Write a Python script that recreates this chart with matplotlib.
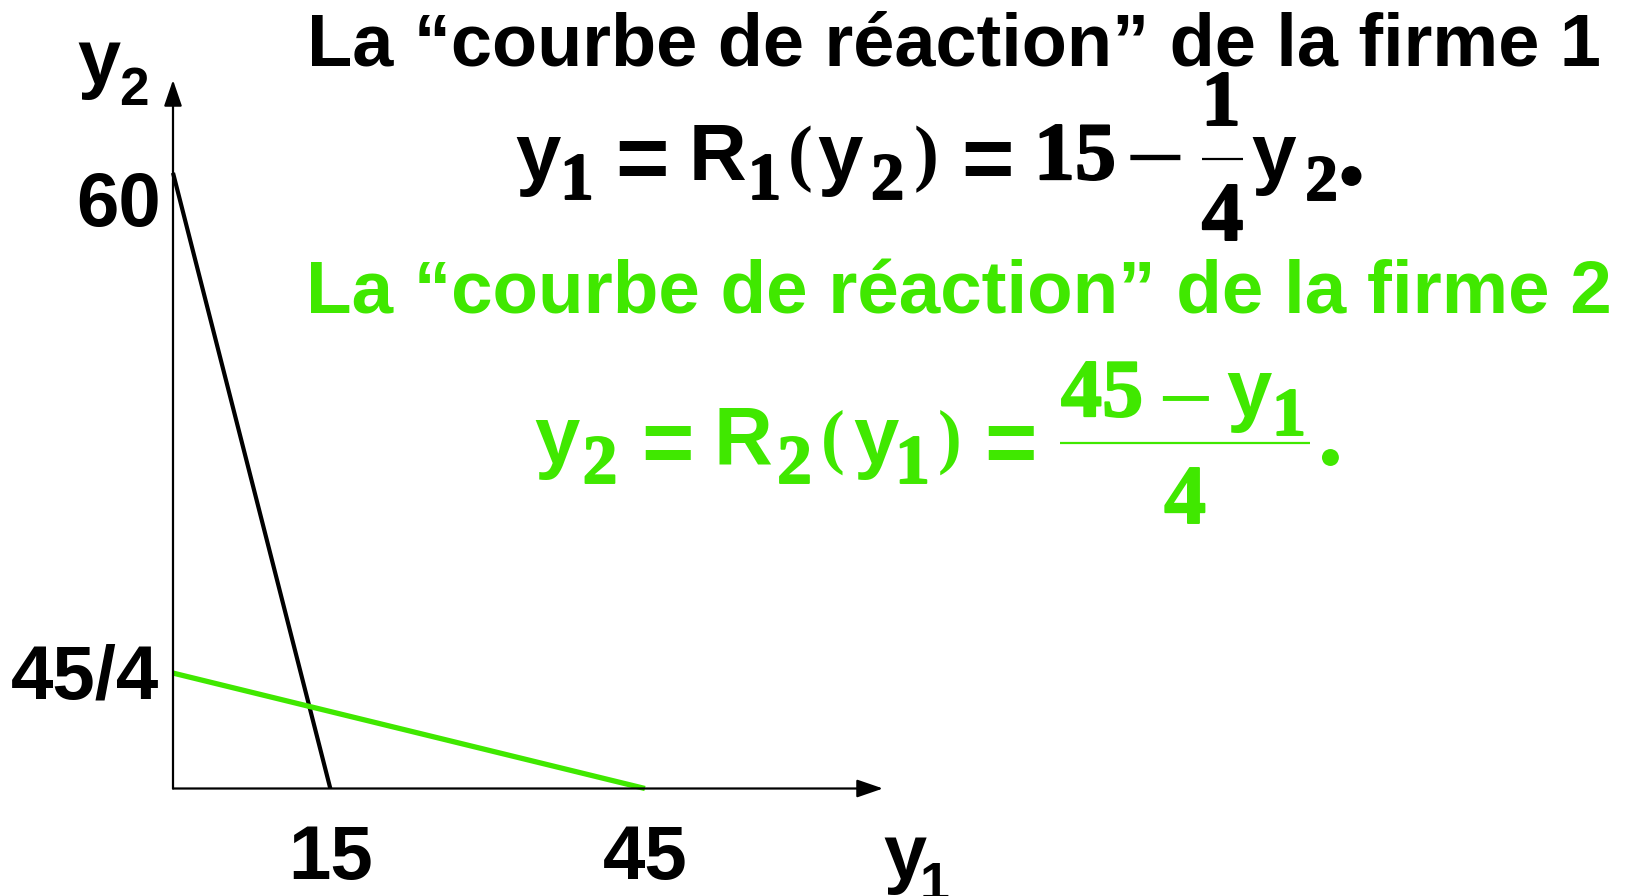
import matplotlib
matplotlib.use("Agg")
import matplotlib.pyplot as plt
import matplotlib.patheffects as pe
from matplotlib.textpath import TextPath
from matplotlib.font_manager import FontProperties
from matplotlib.transforms import IdentityTransform
from matplotlib.lines import Line2D

# ---------------- data ----------------
r1_y1 = [0, 15]        # firm 1 reaction curve: y1 = 15 - y2/4
r1_y2 = [60, 0]
r2_y1 = [0, 45]        # firm 2 reaction curve: y2 = (45 - y1)/4
r2_y2 = [45 / 4, 0]
xtick_vals = [15, 45]
xtick_labels = ["15", "45"]
ytick_vals = [60, 45 / 4]
ytick_labels = ["60", "45/4"]
title1 = "La \u201ccourbe de r\u00e9action\u201d de la firme 1"
title2 = "La \u201ccourbe de r\u00e9action\u201d de la firme 2"

# ---------------- style ----------------
W, H, DPI = 1626, 896, 100
SANS = "Liberation Sans"
SERIF = ["Liberation Serif", "DejaVu Serif"]
BLACK = "black"
GREEN = "#40E800"

fig = plt.figure(figsize=(W / DPI, H / DPI), dpi=DPI)
fig.patch.set_facecolor("white")


def ink(s, fam, weight, size_px):
    prop = FontProperties(family=fam, weight=weight)
    return TextPath((0, 0), s, size=size_px, prop=prop).get_extents()


def put(s, fam, color, cx=None, right=None, cy=None, baseline=None,
        h=None, w=None, size_px=None, weight="bold", stroke=0):
    """Place real text; coordinates are figure pixels measured from the top."""
    if size_px is None:
        e = ink(s, fam, weight, 100)
        size_px = 100 * h / e.height if h is not None else 100 * w / e.width
    e = ink(s, fam, weight, size_px)
    if cx is None:
        cx = right - e.width / 2
    if baseline is not None:
        yb = H - baseline
    else:
        yb = (H - cy) - (e.y0 + e.y1) / 2
    t = fig.text(cx, yb, s, transform=IdentityTransform(), ha="center",
                 va="baseline", fontsize=size_px * 72 / DPI, family=fam,
                 weight=weight, color=color)
    if stroke:
        t.set_path_effects([pe.withStroke(linewidth=stroke, foreground=color)])
    return size_px


def bar(x0, x1, y, color, lw=1.5):
    fig.add_artist(Line2D([x0, x1], [H - y, H - y], transform=IdentityTransform(),
                          color=color, lw=lw, solid_capstyle="butt"))


def box(s, fam, color, x0, y0, x1, y1, fit="h", weight="bold", stroke=None):
    if stroke is None:
        stroke = 1.4 if (fam is SERIF and s not in "()\u2212") else 0
    kw = dict(h=y1 - y0) if fit == "h" else dict(w=x1 - x0)
    put(s, fam, color, cx=(x0 + x1) / 2, cy=(y0 + y1) / 2, weight=weight,
        stroke=stroke, **kw)


# ---------------- chart ----------------
ax = fig.add_axes([173 / W, (H - 788.5) / H, 710 / W, 708.5 / H])
ax.set_xlim(0, 67.7)
ax.set_ylim(0, 69.05)
ax.axis("off")

arrow = dict(arrowstyle="-|>,head_length=1.6,head_width=0.55", color=BLACK,
             lw=1.6, shrinkA=0, shrinkB=0)
ax.annotate("", xy=(1, 0), xytext=(0, 0), xycoords="axes fraction", arrowprops=arrow,
            annotation_clip=False)
ax.annotate("", xy=(0, 1), xytext=(0, 0), xycoords="axes fraction", arrowprops=arrow,
            annotation_clip=False)

ax.plot(r1_y1, r1_y2, color=BLACK, lw=3.0, solid_capstyle="butt", clip_on=False)
ax.plot(r2_y1, r2_y2, color=GREEN, lw=3.8, solid_capstyle="butt", clip_on=False)

# tick labels
e60 = ink("60", SANS, "bold", 100)
tick_px = 100 * 54 / e60.height
ylabel_dy = [26.5, -1.5]
for v, lab, dy in zip(ytick_vals, ytick_labels, ylabel_dy):
    px, py = ax.transData.transform((0, v))
    put(lab, SANS, BLACK, right=px - 15, cy=(H - py) + dy, size_px=tick_px)
for v, lab in zip(xtick_vals, xtick_labels):
    px, py = ax.transData.transform((v, 0))
    put(lab, SANS, BLACK, cx=px, cy=(H - py) + 65, size_px=tick_px)

# axis labels
box("y", SANS, BLACK, 80, 43, 118, 100)
box("2", SANS, BLACK, 120, 68, 147, 105)
box("y", SANS, BLACK, 886, 838, 923, 895)
box("1", SANS, BLACK, 926, 863, 944, 900)

# ---------------- titles ----------------
put(title1, SANS, BLACK, cx=(309 + 1598) / 2, baseline=65, w=1598 - 309)
put(title2, SANS, GREEN, cx=(309 + 1608) / 2, baseline=313, w=1608 - 309)

# ---------------- equation 1 ----------------
c = BLACK
box("y", SANS, c, 517, 137, 560, 197)
box("1", SERIF, c, 562, 155, 592, 199)
box("=", SANS, c, 619, 148, 665, 170, fit="w")
box("R", SANS, c, 692, 125, 742, 180)
box("1", SERIF, c, 750, 155, 779, 199)
box("(", SERIF, c, 788, 125, 812, 193)
box("y", SANS, c, 815, 137, 865, 197)
box("2", SERIF, c, 870, 155, 905, 199)
box(")", SERIF, c, 915, 125, 937, 193)
box("=", SANS, c, 965, 148, 1010, 170, fit="w")
box("15", SERIF, c, 1037, 125, 1113, 180)
box("\u2212", SERIF, c, 1130, 155, 1180, 160, fit="w", weight="normal")
box("1", SERIF, c, 1207, 73, 1235, 125)
bar(1202, 1243, 159, c, lw=1.6)
box("4", SERIF, c, 1203, 185, 1242, 240)
box("y", SANS, c, 1248, 137, 1300, 196)
box("2", SERIF, c, 1305, 157, 1338, 200)
box(".", SERIF, c, 1343, 167, 1360, 185)

# ---------------- equation 2 ----------------
c = GREEN
box("y", SANS, c, 536, 420, 578, 480)
box("2", SERIF, c, 583, 437, 617, 483)
box("=", SANS, c, 645, 433, 690, 453, fit="w")
box("R", SANS, c, 718, 407, 768, 463)
box("2", SERIF, c, 777, 437, 812, 483)
box("(", SERIF, c, 822, 410, 843, 475)
box("y", SANS, c, 855, 420, 897, 480)
box("1", SERIF, c, 898, 437, 927, 483)
box(")", SERIF, c, 940, 410, 960, 475)
box("=", SANS, c, 988, 433, 1033, 453, fit="w")
box("45", SERIF, c, 1062, 362, 1142, 417)
box("\u2212", SERIF, c, 1162, 395, 1208, 400, fit="w", weight="normal")
box("y", SANS, c, 1227, 373, 1272, 433)
box("1", SERIF, c, 1275, 390, 1303, 435)
bar(1060, 1310, 443, c, lw=1.6)
box("4", SERIF, c, 1165, 468, 1205, 523)
box(".", SERIF, c, 1323, 450, 1338, 465)

fig.savefig("out.png", dpi=DPI, facecolor="white")
